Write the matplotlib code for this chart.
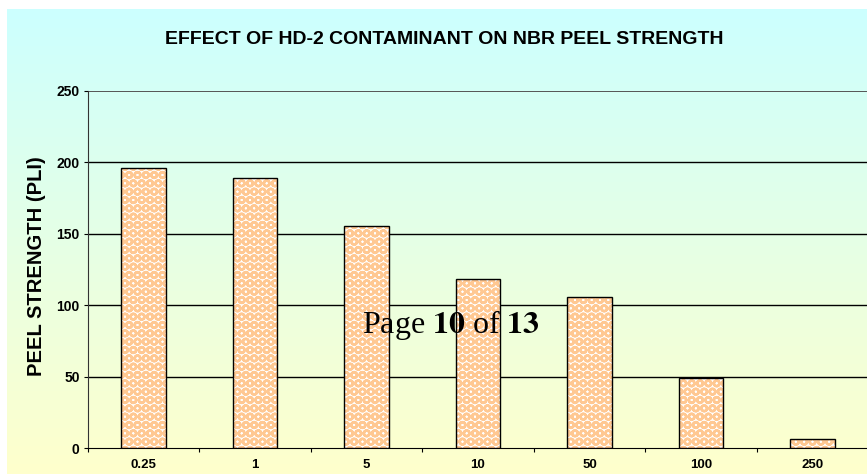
import numpy as np, matplotlib; matplotlib.use("Agg")
import matplotlib.pyplot as plt
from matplotlib.colors import LinearSegmentedColormap

# data
levels=["0.25","1","5","10","50","100","250"]
peel=[196,189,155.5,118,105.5,49,6.5]
yticks=[0,50,100,150,200,250]

W,H=867,474
plt.rcParams["hatch.linewidth"]=1.8
fig=plt.figure(figsize=(W/100,H/100),dpi=100)
fig.patch.set_facecolor("white")

# gradient background panel
bg=fig.add_axes([7/W,0,1-7/W,(H-9)/H]); bg.set_axis_off()
cmap=LinearSegmentedColormap.from_list("g",["#FFFFCC","#CCFFFF"])
bg.imshow(np.linspace(0,1,256).reshape(-1,1),aspect="auto",cmap=cmap,origin="lower",extent=[0,1,0,1])
bg.set_xlim(0,1); bg.set_ylim(0,1)

ax=fig.add_axes([88/W,26/H,(868-88)/W,(448-91)/H])
ax.patch.set_alpha(0)
x=np.arange(len(levels))
ax.bar(x,peel,width=0.4,color="white",edgecolor="#FFC892",hatch="OO",linewidth=0,zorder=3)
ax.bar(x,peel,width=0.4,fill=False,edgecolor="black",linewidth=1,zorder=4)
ax.set_xlim(-0.5,len(levels)-0.5); ax.set_ylim(0,250)
ax.set_yticks(yticks)
ax.set_yticklabels([str(v) for v in yticks],fontsize=10,fontweight="bold",family="Liberation Sans")
for v in yticks[1:]:
    ax.axhline(v,color="#555555" if v==250 else "black",lw=1 if v<250 else 1.4,zorder=2)
ax.set_xticks(np.arange(len(levels)+1)-0.5)
ax.set_xticklabels([])
ax.set_xticks(x,minor=True)
ax.set_xticklabels(levels,minor=True,fontsize=9.5,fontweight="bold",family="Liberation Sans")
ax.tick_params(axis="x",which="minor",length=0,pad=8)
ax.tick_params(axis="x",which="major",length=3,direction="out")
ax.tick_params(axis="y",length=3,direction="out",pad=3)
for s in ["top","right"]: ax.spines[s].set_visible(False)
ax.spines["left"].set_color("#333333"); ax.spines["bottom"].set_color("black")

fig.text(36.5/W,1-266/H,"PEEL STRENGTH (PLI)",rotation=90,ha="center",va="center",
         fontsize=14.5,fontweight="bold",family="Liberation Sans")
fig.text(444/W,1-39/H,"EFFECT OF HD-2 CONTAMINANT ON NBR PEEL STRENGTH",ha="center",va="center",
         fontsize=14,fontweight="bold",family="Liberation Sans")
fig.text(362/W,1-333/H,r"Page $\mathbf{10}$ of $\mathbf{13}$",ha="left",va="baseline",
         fontsize=23,family="Liberation Serif",math_fontfamily="stix")

fig.savefig("out.png",dpi=100)
